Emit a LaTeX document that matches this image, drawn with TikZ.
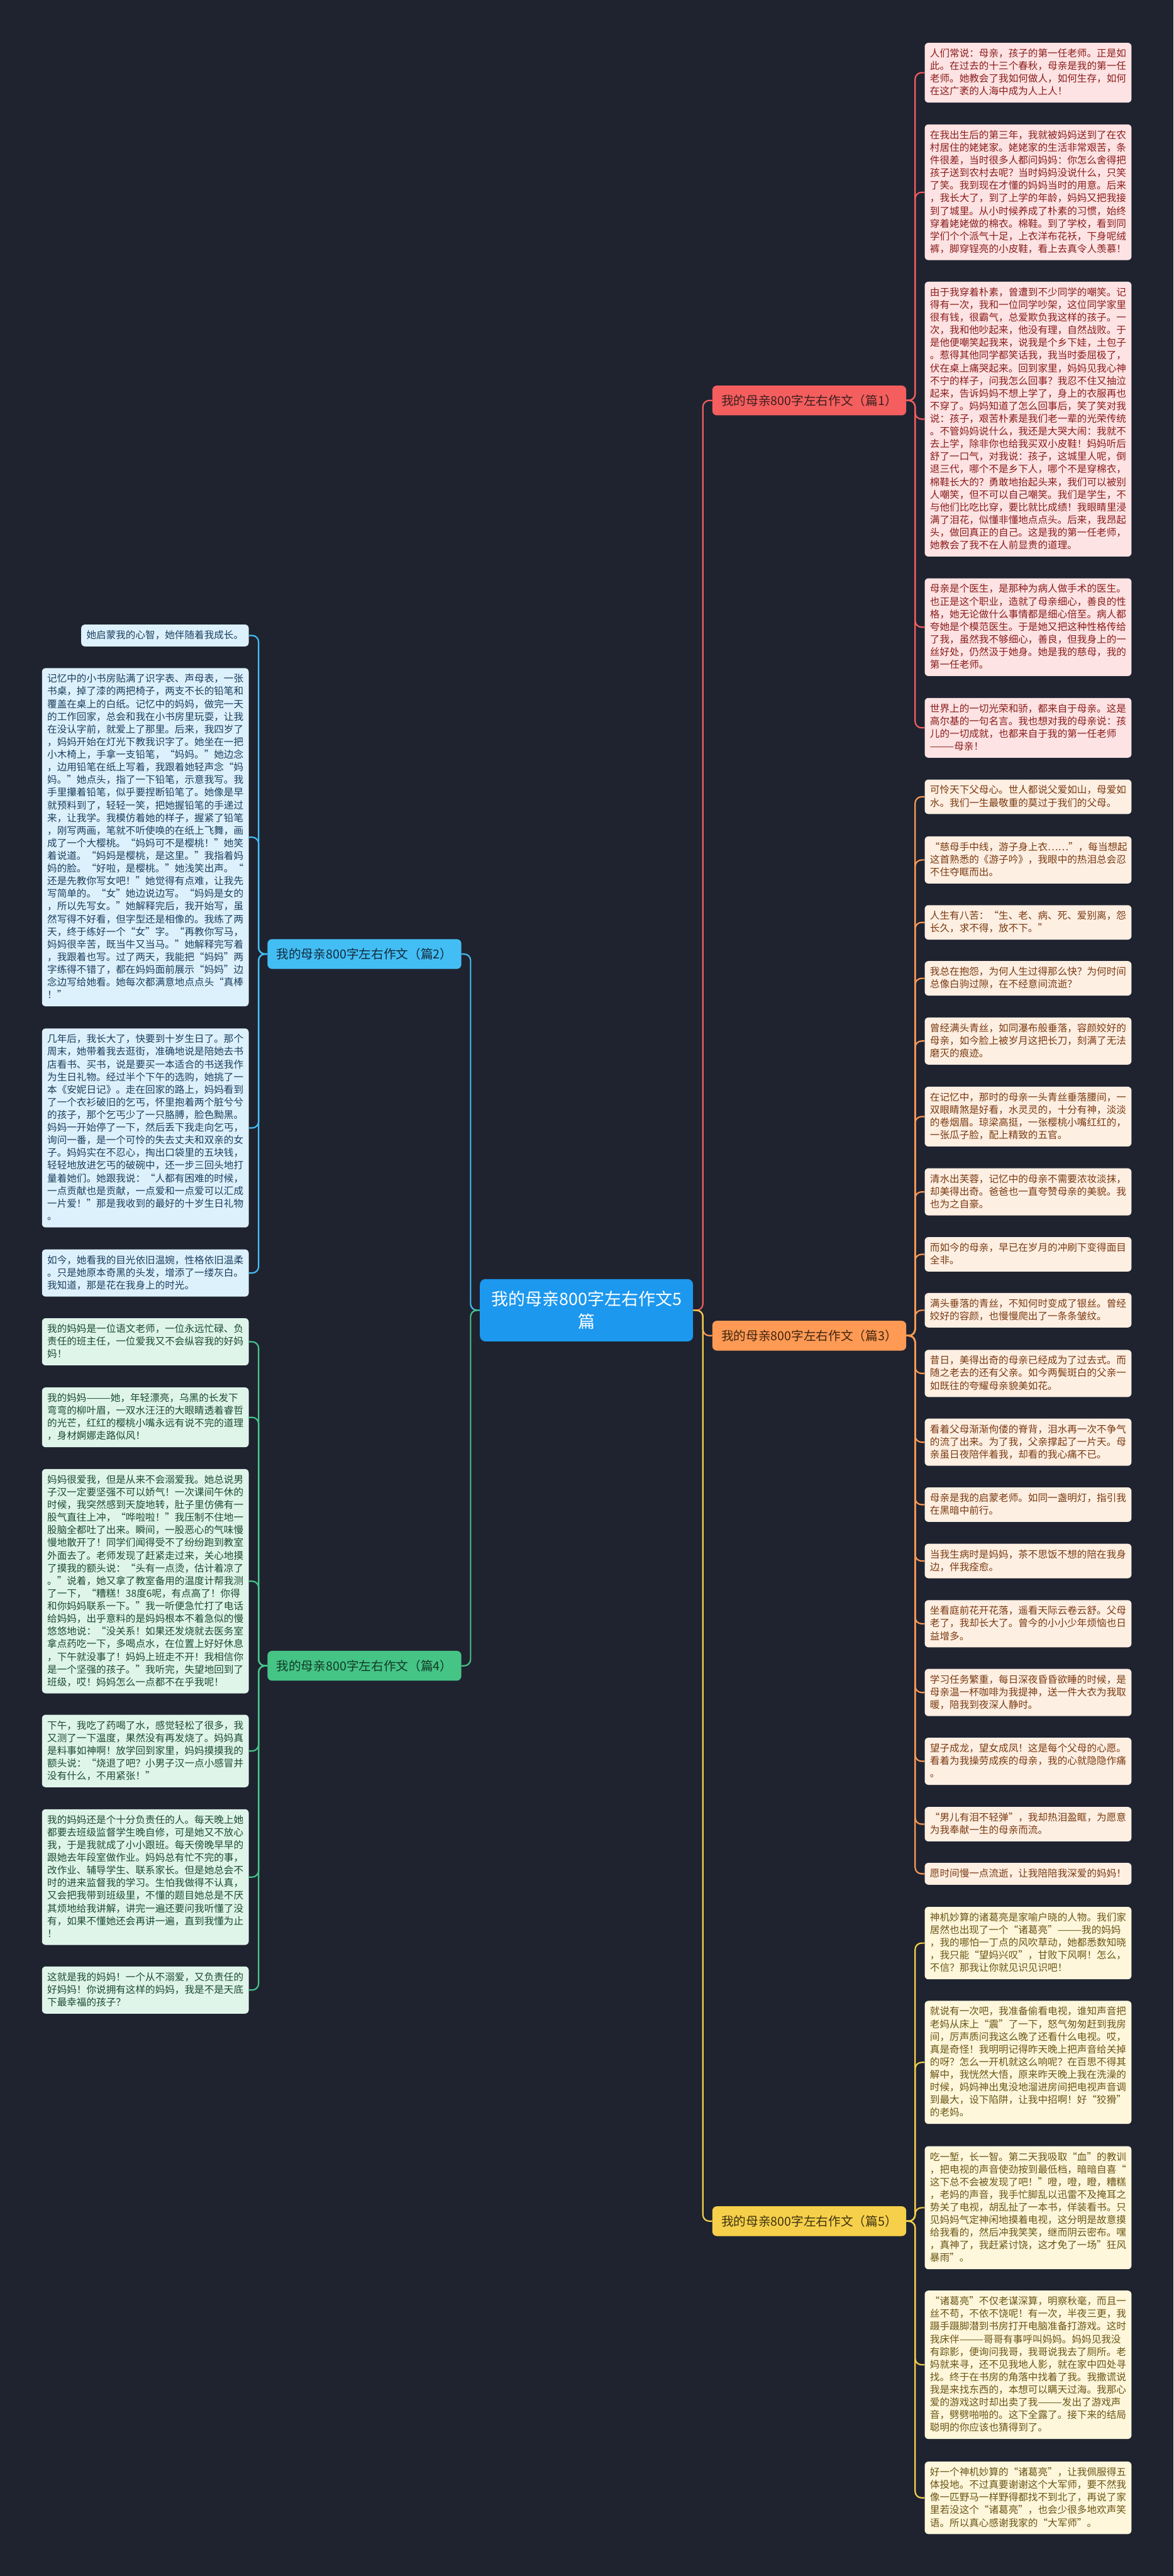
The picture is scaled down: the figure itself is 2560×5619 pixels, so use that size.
\documentclass[tikz,border=0pt]{standalone}
\usepackage{fontspec}
\newfontfamily\cjk{Noto Sans CJK SC}
\definecolor{bgc}{HTML}{1F2330}
\definecolor{cctr}{HTML}{1C98EF}
\definecolor{cA}{HTML}{F45E5E}\definecolor{cAl}{HTML}{FDE3E3}\definecolor{cAt}{HTML}{8B1C1C}\definecolor{cAb}{HTML}{3E1E1E}
\definecolor{cC}{HTML}{FF9A55}\definecolor{cCl}{HTML}{FEEFE3}\definecolor{cCt}{HTML}{7A3A10}\definecolor{cCb}{HTML}{40240E}
\definecolor{cE}{HTML}{F6D04A}\definecolor{cEl}{HTML}{FEF7DC}\definecolor{cEt}{HTML}{6B5514}\definecolor{cEb}{HTML}{3E3210}
\definecolor{cB}{HTML}{42BEF5}\definecolor{cBl}{HTML}{DDF1FC}\definecolor{cBt}{HTML}{1B3F5E}\definecolor{cBb}{HTML}{142A3C}
\definecolor{cD}{HTML}{45C486}\definecolor{cDl}{HTML}{DFF5EA}\definecolor{cDt}{HTML}{1C4A33}\definecolor{cDb}{HTML}{123A26}
\newcommand\lfstrut{\rule[-3.4pt]{0pt}{13.8pt}}
\tikzset{
  leaf/.style={rounded corners=4pt, inner xsep=5.75pt, inner ysep=5pt, text width=214pt, align=left,
    font=\cjk\fontsize{10.7pt}{13.8pt}\selectfont,
    execute at begin node={\parindent0pt\lfstrut}, execute at end node={\lfstrut}},
  rleaf/.style={leaf, anchor=north west},
  lleaf/.style={leaf, anchor=north east},
  lA/.style={rleaf, fill=cAl, text=cAt},
  lC/.style={rleaf, fill=cCl, text=cCt},
  lE/.style={rleaf, fill=cEl, text=cEt},
  lB/.style={lleaf, fill=cBl, text=cBt},
  lD/.style={lleaf, fill=cDl, text=cDt},
  branch/.style={rounded corners=5pt, minimum width=211.5pt, minimum height=32.5pt, inner sep=0pt,
    font=\cjk\fontsize{13.5pt}{16pt}\selectfont},
  conn/.style={line width=1.5pt, rounded corners=7pt},
}
\begin{document}
\begin{tikzpicture}[x=0.5pt,y=-0.5pt]
\fill[bgc] (0,0) rectangle (2560,5619);
\useasboundingbox (0,0) rectangle (2560,5619);

% center and branches
\node[rounded corners=6pt, fill=cctr, text=white, minimum width=232.5pt, minimum height=68pt, inner sep=0pt, align=center,
  font=\cjk\fontsize{18.5pt}{24.5pt}\selectfont] (c) at (1279.5,2858) {我的母亲800字左右作文5\\篇};
\node[branch, fill=cA, text=cAb] (b1) at (1765.5,873.5) {我的母亲800字左右作文（篇1）};
\node[branch, fill=cC, text=cCb] (b3) at (1765.5,2913.5) {我的母亲800字左右作文（篇3）};
\node[branch, fill=cE, text=cEb] (b5) at (1765.5,4845) {我的母亲800字左右作文（篇5）};
\node[branch, fill=cB, text=cBb] (b2) at (795,2081) {我的母亲800字左右作文（篇2）};
\node[branch, fill=cD, text=cDb] (b4) at (795,3633.5) {我的母亲800字左右作文（篇4）};

% ===== 篇1 =====
\node[lA] (r1a) at (2017,93) {人们常说：母亲，孩子的第一任老师。正是如\\%
此。在过去的十三个春秋，母亲是我的第一任\\%
老师。她教会了我如何做人，如何生存，如何\\%
在这广袤的人海中成为人上人！};
\node[lA] (r1b) at (2017,271) {在我出生后的第三年，我就被妈妈送到了在农\\%
村居住的姥姥家。姥姥家的生活非常艰苦，条\\%
件很差，当时很多人都问妈妈：你怎么舍得把\\%
孩子送到农村去呢？当时妈妈没说什么，只笑\\%
了笑。我到现在才懂的妈妈当时的用意。后来\\%
，我长大了，到了上学的年龄，妈妈又把我接\\%
到了城里。从小时候养成了朴素的习惯，始终\\%
穿着姥姥做的棉衣。棉鞋。到了学校，看到同\\%
学们个个派气十足，上衣洋布花袄，下身呢绒\\%
裤，脚穿锃亮的小皮鞋，看上去真令人羡慕！};
\node[lA] (r1c) at (2017,614) {由于我穿着朴素，曾遭到不少同学的嘲笑。记\\%
得有一次，我和一位同学吵架，这位同学家里\\%
很有钱，很霸气，总爱欺负我这样的孩子。一\\%
次，我和他吵起来，他没有理，自然战败。于\\%
是他便嘲笑起我来，说我是个乡下娃，土包子\\%
。惹得其他同学都笑话我，我当时委屈极了，\\%
伏在桌上痛哭起来。回到家里，妈妈见我心神\\%
不宁的样子，问我怎么回事？我忍不住又抽泣\\%
起来，告诉妈妈不想上学了，身上的衣服再也\\%
不穿了。妈妈知道了怎么回事后，笑了笑对我\\%
说：孩子，艰苦朴素是我们老一辈的光荣传统\\%
。不管妈妈说什么，我还是大哭大闹：我就不\\%
去上学，除非你也给我买双小皮鞋！妈妈听后\\%
舒了一口气，对我说：孩子，这城里人呢，倒\\%
退三代，哪个不是乡下人，哪个不是穿棉衣，\\%
棉鞋长大的？勇敢地抬起头来，我们可以被别\\%
人嘲笑，但不可以自己嘲笑。我们是学生，不\\%
与他们比吃比穿，要比就比成绩！我眼睛里浸\\%
满了泪花，似懂非懂地点点头。后来，我昂起\\%
头，做回真正的自己。这是我的第一任老师，\\%
她教会了我不在人前显贵的道理。};
\node[lA] (r1d) at (2017,1261) {母亲是个医生，是那种为病人做手术的医生。\\%
也正是这个职业，造就了母亲细心，善良的性\\%
格，她无论做什么事情都是细心倍至。病人都\\%
夸她是个模范医生。于是她又把这种性格传给\\%
了我，虽然我不够细心，善良，但我身上的一\\%
丝好处，仍然汲于她身。她是我的慈母，我的\\%
第一任老师。};
\node[lA] (r1e) at (2017,1522) {世界上的一切光荣和骄，都来自于母亲。这是\\%
高尔基的一句名言。我也想对我的母亲说：孩\\%
儿的一切成就，也都来自于我的第一任老师\\%
———母亲！};

% ===== 篇3 =====
\node[lC] (r3a) at (2017,1700) {可怜天下父母心。世人都说父爱如山，母爱如\\%
水。我们一生最敬重的莫过于我们的父母。};
\node[lC] (r3b) at (2017,1824) {“慈母手中线，游子身上衣……”，每当想起\\%
这首熟悉的《游子吟》，我眼中的热泪总会忍\\%
不住夺眶而出。};
\node[lC] (r3c) at (2017,1974) {人生有八苦：“生、老、病、死、爱别离，怨\\%
长久，求不得，放不下。”};
\node[lC] (r3d) at (2017,2096) {我总在抱怨，为何人生过得那么快？为何时间\\%
总像白驹过隙，在不经意间流逝？};
\node[lC] (r3e) at (2017,2219) {曾经满头青丝，如同瀑布般垂落，容颜姣好的\\%
母亲，如今脸上被岁月这把长刀，刻满了无法\\%
磨灭的痕迹。};
\node[lC] (r3f) at (2017,2370) {在记忆中，那时的母亲一头青丝垂落腰间，一\\%
双眼睛煞是好看，水灵灵的，十分有神，淡淡\\%
的卷烟眉。琼梁高挺，一张樱桃小嘴红红的，\\%
一张瓜子脸，配上精致的五官。};
\node[lC] (r3g) at (2017,2548) {清水出芙蓉，记忆中的母亲不需要浓妆淡抹，\\%
却美得出奇。爸爸也一直夸赞母亲的美貌。我\\%
也为之自豪。};
\node[lC] (r3h) at (2017,2698) {而如今的母亲，早已在岁月的冲刷下变得面目\\%
全非。};
\node[lC] (r3i) at (2017,2820) {满头垂落的青丝，不知何时变成了银丝。曾经\\%
姣好的容颜，也慢慢爬出了一条条皱纹。};
\node[lC] (r3j) at (2017,2944) {昔日，美得出奇的母亲已经成为了过去式。而\\%
随之老去的还有父亲。如今两鬓斑白的父亲一\\%
如既往的夸耀母亲貌美如花。};
\node[lC] (r3k) at (2017,3094) {看着父母渐渐佝偻的脊背，泪水再一次不争气\\%
的流了出来。为了我，父亲撑起了一片天。母\\%
亲虽日夜陪伴着我，却看的我心痛不已。};
\node[lC] (r3l) at (2017,3244) {母亲是我的启蒙老师。如同一盏明灯，指引我\\%
在黑暗中前行。};
\node[lC] (r3m) at (2017,3367) {当我生病时是妈妈，茶不思饭不想的陪在我身\\%
边，伴我痊愈。};
\node[lC] (r3n) at (2017,3490) {坐看庭前花开花落，遥看天际云卷云舒。父母\\%
老了，我却长大了。曾今的小小少年烦恼也日\\%
益增多。};
\node[lC] (r3o) at (2017,3640) {学习任务繁重，每日深夜昏昏欲睡的时候，是\\%
母亲温一杯咖啡为我提神，送一件大衣为我取\\%
暖，陪我到夜深人静时。};
\node[lC] (r3p) at (2017,3790) {望子成龙，望女成凤！这是每个父母的心愿。\\%
看着为我操劳成疾的母亲，我的心就隐隐作痛\\%
。};
\node[lC] (r3q) at (2017,3941) {“男儿有泪不轻弹”，我却热泪盈眶，为愿意\\%
为我奉献一生的母亲而流。};
\node[lC] (r3r) at (2017,4063) {愿时间慢一点流逝，让我陪陪我深爱的妈妈！};

% ===== 篇5 =====
\node[lE] (r5a) at (2017,4159) {神机妙算的诸葛亮是家喻户晓的人物。我们家\\%
居然也出现了一个“诸葛亮”———我的妈妈\\%
，我的哪怕一丁点的风吹草动，她都悉数知晓\\%
，我只能“望妈兴叹”，甘败下风啊！怎么，\\%
不信？那我让你就见识见识吧！};
\node[lE] (r5b) at (2017,4364) {就说有一次吧，我准备偷看电视，谁知声音把\\%
老妈从床上“震”了一下，怒气匆匆赶到我房\\%
间，厉声质问我这么晚了还看什么电视。哎，\\%
真是奇怪！我明明记得昨天晚上把声音给关掉\\%
的呀？怎么一开机就这么响呢？在百思不得其\\%
解中，我恍然大悟，原来昨天晚上我在洗澡的\\%
时候，妈妈神出鬼没地溜进房间把电视声音调\\%
到最大，设下陷阱，让我中招啊！好“狡猾”\\%
的老妈。};
\node[lE] (r5c) at (2017,4681) {吃一堑，长一智。第二天我吸取“血”的教训\\%
，把电视的声音使劲按到最低档，暗暗自喜“\\%
这下总不会被发现了吧！”噔，噔，瞪，糟糕\\%
，老妈的声音，我手忙脚乱以迅雷不及掩耳之\\%
势关了电视，胡乱扯了一本书，佯装看书。只\\%
见妈妈气定神闲地摸着电视，这分明是故意摸\\%
给我看的，然后冲我笑笑，继而阴云密布。嘿\\%
，真神了，我赶紧讨饶，这才免了一场”狂风\\%
暴雨”。};
\node[lE] (r5d) at (2017,4996) {“诸葛亮”不仅老谋深算，明察秋毫，而且一\\%
丝不苟，不依不饶呢！有一次，半夜三更，我\\%
蹑手蹑脚潜到书房打开电脑准备打游戏。这时\\%
我床伴———哥哥有事呼叫妈妈。妈妈见我没\\%
有踪影，便询问我哥，我哥说我去了厕所。老\\%
妈就来寻，还不见我地人影，就在家中四处寻\\%
找。终于在书房的角落中找着了我。我撒谎说\\%
我是来找东西的，本想可以瞒天过海。我那心\\%
爱的游戏这时却出卖了我———发出了游戏声\\%
音，劈劈啪啪的。这下全露了。接下来的结局\\%
聪明的你应该也猜得到了。};
\node[lE] (r5e) at (2017,5369) {好一个神机妙算的“诸葛亮”，让我佩服得五\\%
体投地。不过真要谢谢这个大军师，要不然我\\%
像一匹野马一样野得都找不到北了，再说了家\\%
里若没这个“诸葛亮”，也会少很多地欢声笑\\%
语。所以真心感谢我家的“大军师”。};

% ===== 篇2 =====
\node[lB, text width=171.2pt] (l2a) at (543,1362) {她启蒙我的心智，她伴随着我成长。};
\node[lB] (l2b) at (543,1457) {记忆中的小书房贴满了识字表、声母表，一张\\%
书桌，掉了漆的两把椅子，两支不长的铅笔和\\%
覆盖在桌上的白纸。记忆中的妈妈，做完一天\\%
的工作回家，总会和我在小书房里玩耍，让我\\%
在没认字前，就爱上了那里。后来，我四岁了\\%
，妈妈开始在灯光下教我识字了。她坐在一把\\%
小木椅上，手拿一支铅笔，“妈妈。”她边念\\%
，边用铅笔在纸上写着，我跟着她轻声念“妈\\%
妈。”她点头，指了一下铅笔，示意我写。我\\%
手里攥着铅笔，似乎要捏断铅笔了。她像是早\\%
就预料到了，轻轻一笑，把她握铅笔的手递过\\%
来，让我学。我模仿着她的样子，握紧了铅笔\\%
，刚写两画，笔就不听使唤的在纸上飞舞，画\\%
成了一个大樱桃。“妈妈可不是樱桃！”她笑\\%
着说道。“妈妈是樱桃，是这里。”我指着妈\\%
妈的脸。“好啦，是樱桃。”她浅笑出声。“\\%
还是先教你写女吧！”她觉得有点难，让我先\\%
写简单的。“女”她边说边写。“妈妈是女的\\%
，所以先写女。”她解释完后，我开始写，虽\\%
然写得不好看，但字型还是相像的。我练了两\\%
天，终于练好一个“女”字。“再教你写马，\\%
妈妈很辛苦，既当牛又当马。”她解释完写着\\%
，我跟着也写。过了两天，我能把“妈妈”两\\%
字练得不错了，都在妈妈面前展示“妈妈”边\\%
念边写给她看。她每次都满意地点点头“真棒\\%
！”};
\node[lB] (l2c) at (543,2243) {几年后，我长大了，快要到十岁生日了。那个\\%
周末，她带着我去逛街，准确地说是陪她去书\\%
店看书、买书，说是要买一本适合的书送我作\\%
为生日礼物。经过半个下午的选购，她挑了一\\%
本《安妮日记》。走在回家的路上，妈妈看到\\%
了一个衣衫破旧的乞丐，怀里抱着两个脏兮兮\\%
的孩子，那个乞丐少了一只胳膊，脸色黝黑。\\%
妈妈一开始停了一下，然后丢下我走向乞丐，\\%
询问一番，是一个可怜的失去丈夫和双亲的女\\%
子。妈妈实在不忍心，掏出口袋里的五块钱，\\%
轻轻地放进乞丐的破碗中，还一步三回头地打\\%
量着她们。她跟我说：“人都有困难的时候，\\%
一点贡献也是贡献，一点爱和一点爱可以汇成\\%
一片爱！”那是我收到的最好的十岁生日礼物\\%
。};
\node[lB] (l2d) at (543,2725) {如今，她看我的目光依旧温婉，性格依旧温柔\\%
。只是她原本奇黑的头发，增添了一缕灰白。\\%
我知道，那是花在我身上的时光。};

% ===== 篇4 =====
\node[lD] (l4a) at (543,2875) {我的妈妈是一位语文老师，一位永远忙碌、负\\%
责任的班主任，一位爱我又不会纵容我的好妈\\%
妈！};
\node[lD] (l4b) at (543,3026) {我的妈妈———她，年轻漂亮，乌黑的长发下\\%
弯弯的柳叶眉，一双水汪汪的大眼睛透着睿哲\\%
的光芒，红红的樱桃小嘴永远有说不完的道理\\%
，身材婀娜走路似风！};
\node[lD] (l4c) at (543,3204) {妈妈很爱我，但是从来不会溺爱我。她总说男\\%
子汉一定要坚强不可以娇气！一次课间午休的\\%
时候，我突然感到天旋地转，肚子里仿佛有一\\%
股气直往上冲，“哗啦啦！”我压制不住地一\\%
股脑全都吐了出来。瞬间，一股恶心的气味慢\\%
慢地散开了！同学们闻得受不了纷纷跑到教室\\%
外面去了。老师发现了赶紧走过来，关心地摸\\%
了摸我的额头说：“头有一点烫，估计着凉了\\%
。”说着，她又拿了教室备用的温度计帮我测\\%
了一下，“糟糕！38度6呢，有点高了！你得\\%
和你妈妈联系一下。”我一听便急忙打了电话\\%
给妈妈，出乎意料的是妈妈根本不着急似的慢\\%
悠悠地说：“没关系！如果还发烧就去医务室\\%
拿点药吃一下，多喝点水，在位置上好好休息\\%
，下午就没事了！妈妈上班走不开！我相信你\\%
是一个坚强的孩子。”我听完，失望地回到了\\%
班级，哎！妈妈怎么一点都不在乎我呢！};
\node[lD] (l4d) at (543,3740) {下午，我吃了药喝了水，感觉轻松了很多，我\\%
又测了一下温度，果然没有再发烧了。妈妈真\\%
是料事如神啊！放学回到家里，妈妈摸摸我的\\%
额头说：“烧退了吧？小男子汉一点小感冒并\\%
没有什么，不用紧张！”};
\node[lD] (l4e) at (543,3946) {我的妈妈还是个十分负责任的人。每天晚上她\\%
都要去班级监督学生晚自修，可是她又不放心\\%
我，于是我就成了小小跟班。每天傍晚早早的\\%
跟她去年段室做作业。妈妈总有忙不完的事，\\%
改作业、辅导学生、联系家长。但是她总会不\\%
时的进来监督我的学习。生怕我做得不认真，\\%
又会把我带到班级里，不懂的题目她总是不厌\\%
其烦地给我讲解，讲完一遍还要问我听懂了没\\%
有，如果不懂她还会再讲一遍，直到我懂为止\\%
！};
\node[lD] (l4f) at (543,4289) {这就是我的妈妈！一个从不溺爱，又负责任的\\%
好妈妈！你说拥有这样的妈妈，我是不是天底\\%
下最幸福的孩子？};

% ===== connectors =====
\draw[conn, cA] (c.east) -- ++(21,0) |- (b1.west);
\draw[conn, cC] (c.east) -- ++(21,0) |- (b3.west);
\draw[conn, cE] (c.east) -- ++(21,0) |- (b5.west);
\draw[conn, cB] (c.west) -- ++(-20,0) |- (b2.east);
\draw[conn, cD] (c.west) -- ++(-20,0) |- (b4.east);
\foreach \n in {r1a,r1b,r1c,r1d,r1e} \draw[conn, cA] (b1.east) -- ++(19,0) |- (\n.west);
\foreach \n in {r3a,r3b,r3c,r3d,r3e,r3f,r3g,r3h,r3i,r3j,r3k,r3l,r3m,r3n,r3o,r3p,r3q,r3r} \draw[conn, cC] (b3.east) -- ++(19,0) |- (\n.west);
\foreach \n in {r5a,r5b,r5c,r5d,r5e} \draw[conn, cE] (b5.east) -- ++(19,0) |- (\n.west);
\foreach \n in {l2a,l2b,l2c,l2d} \draw[conn, cB] (b2.west) -- ++(-19,0) |- (\n.east);
\foreach \n in {l4a,l4b,l4c,l4d,l4e,l4f} \draw[conn, cD] (b4.west) -- ++(-19,0) |- (\n.east);
\end{tikzpicture}
\end{document}
